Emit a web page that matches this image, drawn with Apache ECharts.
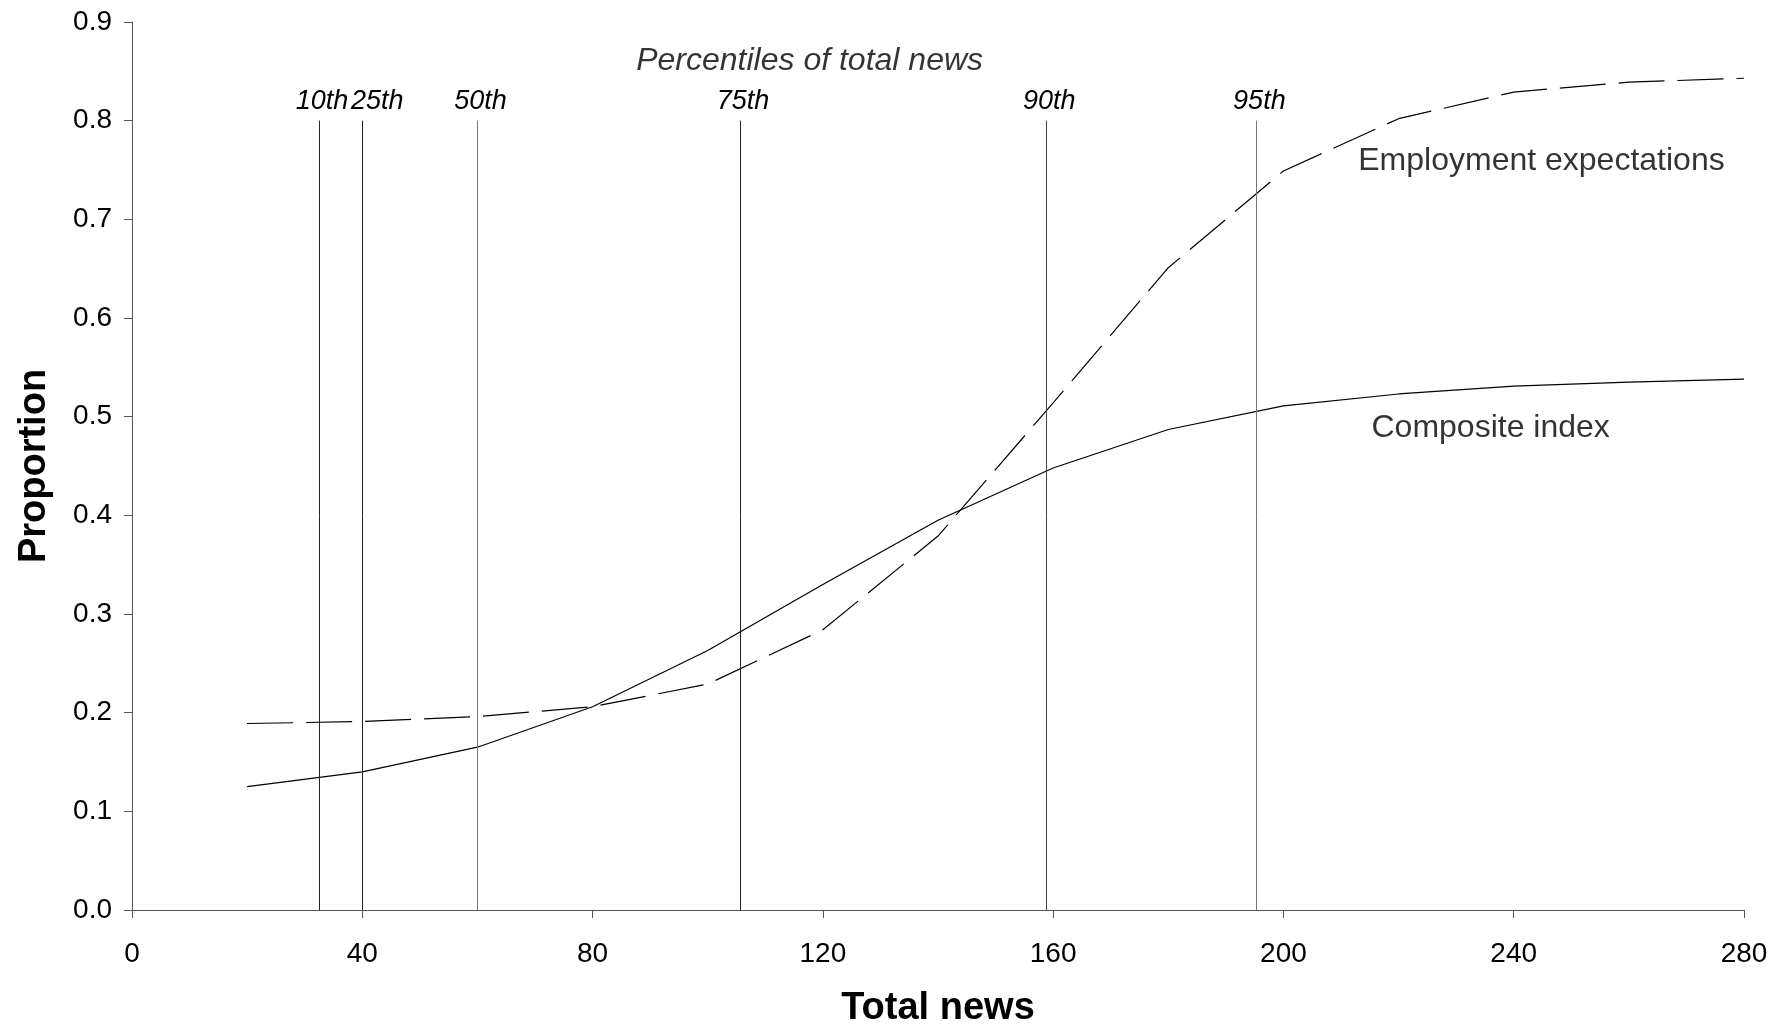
<!DOCTYPE html>
<html>
<head>
<meta charset="utf-8">
<script src="https://cdn.jsdelivr.net/npm/echarts@6/dist/echarts.min.js"></script>
<style>
  html, body { margin: 0; padding: 0; background: #fff; }
  #chart { width: 1791px; height: 1029px; }
</style>
</head>
<body>
<div id="chart"></div>
<script>
// Total news count (x) at which each predicted proportion is evaluated
const totalNews = [20, 40, 60, 80, 100, 120, 140, 160, 180, 200, 220, 240, 260, 280];

// Predicted proportions
const compositeIndex = [0.125, 0.140, 0.165, 0.206, 0.263, 0.330, 0.395, 0.448, 0.487, 0.511, 0.523, 0.531, 0.535, 0.538];
const employmentExpectations = [0.189, 0.191, 0.196, 0.206, 0.229, 0.284, 0.379, 0.514, 0.651, 0.749, 0.802, 0.829, 0.839, 0.843];

// Percentiles of the total news distribution
const percentileValues = [32.5, 40, 60, 105.6, 158.8, 195.3];
const percentileLabels = ['10th', '25th', '50th', '75th', '90th', '95th'];
const percentileColors = ['#222', '#222', '#777', '#222', '#444', '#777'];
const percentileTop = 0.8;

// Text annotations placed in data units: [x, y, text]
const annotations = [
  [117.7, 0.860, 'Percentiles of total news'],
  [213.0, 0.759, 'Employment expectations'],
  [215.3, 0.488, 'Composite index']
];

const FONT = "'Liberation Sans', Arial, sans-serif";
const chart = echarts.init(document.getElementById('chart'), null, { renderer: 'canvas' });

const pairs = (ys) => totalNews.map((x, i) => [x, ys[i]]);

chart.setOption({
  animation: false,
  backgroundColor: '#fff',
  grid: { left: 132, right: 47, top: 22, bottom: 119, containLabel: false, outerBoundsMode: 'none' },
  xAxis: {
    type: 'value',
    min: 0, max: 280, interval: 40,
    name: 'Total news',
    nameLocation: 'middle',
    nameGap: 80,
    nameTextStyle: { fontFamily: FONT, fontSize: 38, fontWeight: 'bold', color: '#000' },
    axisLine: { show: true, onZero: false, lineStyle: { color: '#555', width: 1 } },
    axisTick: { show: true, inside: false, length: 8, lineStyle: { color: '#555' } },
    axisLabel: { fontFamily: FONT, fontSize: 28, color: '#000', margin: 30 },
    splitLine: { show: false }
  },
  yAxis: {
    type: 'value',
    min: 0, max: 0.9, interval: 0.1,
    name: 'Proportion',
    nameLocation: 'middle',
    nameGap: 78,
    nameRotate: 90,
    nameTextStyle: { fontFamily: FONT, fontSize: 38, fontWeight: 'bold', color: '#000' },
    axisLine: { show: true, lineStyle: { color: '#555', width: 1 } },
    axisTick: { show: true, inside: false, length: 8, lineStyle: { color: '#555' } },
    axisLabel: { fontFamily: FONT, fontSize: 28, color: '#000', margin: 20, formatter: (v) => v.toFixed(1) },
    splitLine: { show: false }
  },
  series: [
    {
      name: 'Composite index',
      type: 'line',
      data: pairs(compositeIndex),
      showSymbol: false,
      symbol: 'none',
      lineStyle: { color: '#000', width: 1.2, type: 'solid' },
      z: 3,
      markLine: {
        silent: true,
        symbol: 'none',
        animation: false,
        label: {
          show: true,
          position: 'end',
          distance: 6,
          formatter: '{b}',
          fontFamily: FONT,
          fontSize: 27,
          fontStyle: 'italic',
          color: '#000'
        },
        data: percentileValues.map((v, i) => [
          {
            coord: [v, 0],
            name: percentileLabels[i],
            lineStyle: { color: percentileColors[i], width: 1, type: 'solid' },
            label: { offset: [i === 1 ? 15 : 3, 0] }
          },
          { coord: [v, percentileTop] }
        ])
      }
    },
    {
      name: 'Employment expectations',
      type: 'line',
      data: pairs(employmentExpectations),
      showSymbol: false,
      symbol: 'none',
      lineStyle: { color: '#000', width: 1.2, type: [46, 13] },
      z: 3
    },
    {
      name: 'annotations',
      type: 'scatter',
      symbolSize: 0,
      silent: true,
      data: annotations.map((a, i) => ({
        value: [a[0], a[1]],
        label: {
          show: true,
          formatter: a[2],
          position: i === 0 ? 'inside' : 'right',
          distance: 0,
          fontFamily: FONT,
          fontSize: 32,
          fontStyle: i === 0 ? 'italic' : 'normal',
          color: '#000'
        }
      }))
    }
  ]
});
</script>
</body>
</html>
